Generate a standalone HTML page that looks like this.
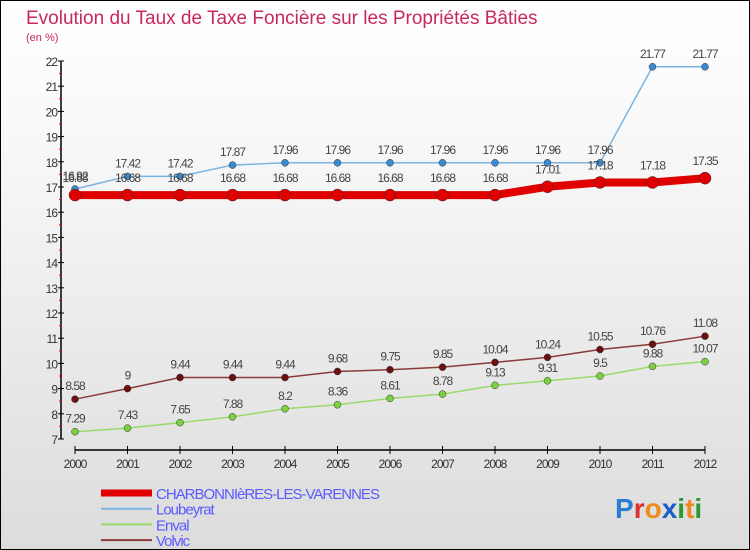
<!DOCTYPE html>
<html><head><meta charset="utf-8"><style>
body{margin:0}
#c{width:748px;height:548px;border:1px solid #000;background:linear-gradient(#fff,#fafafa 20%,#dcdcdc);position:relative;font-family:"Liberation Sans",sans-serif;overflow:hidden}
svg{position:absolute;left:0;top:0}
</style></head><body>
<div id="c">
<svg id="s" width="748" height="548" font-family="Liberation Sans, sans-serif">
<text x="25" y="23" font-size="19" fill="#c8285a">Evolution du Taux de Taxe Foncière sur les Propriétés Bâties</text>
<text x="25" y="40" font-size="11" fill="#c8285a">(en %)</text>
<text x="614" y="517" font-size="28" font-weight="bold"><tspan fill="#2a7fd4">P</tspan><tspan fill="#e03030">r</tspan><tspan fill="#f08a1c">o</tspan><tspan fill="#1a5fc8">x</tspan><tspan fill="#2a9a30">i</tspan><tspan fill="#f08a1c">t</tspan><tspan fill="#2a9a30">i</tspan></text>
</svg>
</div>
<script>
const years=[2000,2001,2002,2003,2004,2005,2006,2007,2008,2009,2010,2011,2012];
const yTicks=[7,8,9,10,11,12,13,14,15,16,17,18,19,20,21,22];
const charbonnieres=[16.68,16.68,16.68,16.68,16.68,16.68,16.68,16.68,16.68,17.01,17.18,17.18,17.35];
const loubeyrat=[16.92,17.42,17.42,17.87,17.96,17.96,17.96,17.96,17.96,17.96,17.96,21.77,21.77];
const enval=[7.29,7.43,7.65,7.88,8.2,8.36,8.61,8.78,9.13,9.31,9.5,9.88,10.07];
const volvic=[8.58,9,9.44,9.44,9.44,9.68,9.75,9.85,10.04,10.24,10.55,10.76,11.08];
const s=document.getElementById('s');const NS='http://www.w3.org/2000/svg';
const X=i=>74+i*(630/12);const Y=v=>60+(22-v)*(378/15);
function el(t,a,p){const e=document.createElementNS(NS,t);for(const k in a)e.setAttribute(k,a[k]);(p||s).appendChild(e);return e;}
let a=el('line',{x1:60,y1:60,x2:60,y2:438,stroke:'#000','stroke-width':1.5});


a=el('line',{x1:74,y1:449,x2:704,y2:449,stroke:'#000','stroke-width':1.5});


yTicks.forEach(v=>{el('line',{x1:57,x2:63,y1:Y(v),y2:Y(v),stroke:'#000'});
 if(v<22)el('line',{x1:58,x2:61,y1:Y(v+0.5),y2:Y(v+0.5),stroke:'#e00'});
 const t=el('text',{x:56,y:Y(v)+5,'text-anchor':'end','font-size':12,fill:'#333','letter-spacing':'-1'});t.textContent=v;
 
 });
years.forEach((y,i)=>{el('line',{x1:X(i),x2:X(i),y1:445,y2:453,stroke:'#000'});
 const t=el('text',{x:X(i),y:467,'text-anchor':'middle','font-size':12,fill:'#333','letter-spacing':'-1'});t.textContent=y;
 
 });
function series(d,col,w,r,dot,name,labOff){
 const p=el('polyline',{points:d.map((v,i)=>X(i)+','+Y(v)).join(' '),fill:'none',stroke:col,'stroke-width':w});
 
 
 d.forEach((v,i)=>{const c=el('circle',{cx:X(i),cy:Y(v),r:r,fill:dot,stroke:'#333','stroke-width':0.5});
  
  
  const t=el('text',{x:X(i),y:Y(v)+labOff,'text-anchor':'middle','font-size':12,fill:'#444','letter-spacing':'-1'});t.textContent=v;
  
  });
}
series(loubeyrat,'#7ab4e0',1.5,3.5,'#3a8ad0','loubeyrat',-9);
series(charbonnieres,'#e00000',8,6,'#e00000','charbonnieres',-13);
series(volvic,'#8a3a3a',1.5,3.5,'#6a1010','volvic',-9);
series(enval,'#9ada6a',1.5,3.5,'#7ad040','enval',-9);
const legend=[['CHARBONNIèRES-LES-VARENNES','#e00000',7],['Loubeyrat','#7ab4e0',2],['Enval','#9ada6a',2],['Volvic','#8a3a3a',2]];
legend.forEach((l,i)=>{const y=492+i*15.7;
 el('line',{x1:100,x2:151,y1:y,y2:y,stroke:l[1],'stroke-width':l[2]});
 const t=el('text',{x:155,y:y+6,'font-size':15,fill:'#5a5aff','letter-spacing':'-1'});t.textContent=l[0];
 
 });
</script>
</body></html>
